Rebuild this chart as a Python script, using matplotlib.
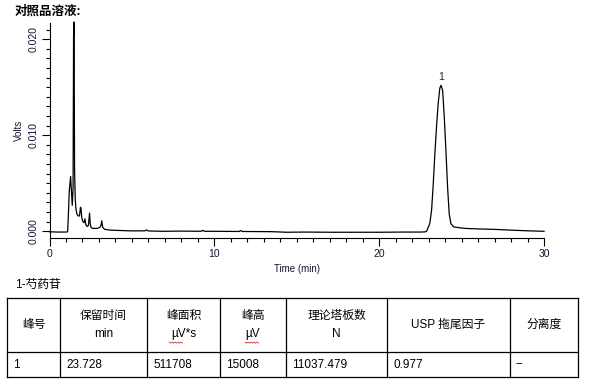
import matplotlib
matplotlib.use('Agg')
import matplotlib.pyplot as plt
from matplotlib.lines import Line2D
from matplotlib.ticker import MultipleLocator

plt.rcParams['font.family'] = ['Liberation Sans', 'Noto Sans CJK SC', 'DejaVu Sans']

# chromatogram readings (min, volts)
time_min = [0.00, 0.50, 1.00, 1.10, 1.14, 1.20, 1.28, 1.33, 1.38, 1.43, 1.46, 1.49,
             1.52, 1.56, 1.60, 1.66, 1.74, 1.82, 1.88, 1.91, 1.96, 2.03, 2.10, 2.15,
             2.20, 2.28, 2.36, 2.43, 2.47, 2.52, 2.60, 2.75, 2.90, 3.05, 3.12, 3.17,
             3.23, 3.35, 3.70, 4.00, 5.00, 5.80, 5.90, 6.00, 7.00, 8.00, 9.20, 9.30,
             9.40, 10.0, 11.5, 11.6, 11.7, 12.5, 13.5, 14.4, 15.5, 17.0, 18.5, 20.0,
             21.5, 22.5, 22.77, 22.87, 23.07, 23.18, 23.27, 23.38, 23.48, 23.58, 23.68,
             23.75, 23.85, 23.95, 24.05, 24.15, 24.25, 24.35, 24.52, 25.20, 26.0,
             27.0, 28.0, 29.0, 30.0]
volts = [-0.00005, -0.00008, -0.00008, -0.00005, 0.0015, 0.0042, 0.0057, 0.0042, 0.0027,
         0.0045, 0.0203, 0.0218, 0.0065, 0.0034, 0.0024, 0.0018, 0.0016, 0.0016, 0.0025,
         0.0024, 0.0014, 0.0010, 0.0009, 0.0013, 0.0007, 0.0005, 0.0006, 0.0019, 0.0008,
         0.0004, 0.0003, 0.0003, 0.0003, 0.0004, 0.0006, 0.0011, 0.0004, 0.0002, 0.00012,
         0.0001, 0.00004, 0.00005, 0.00015, 0.00003, 0.0, 0.00002, 0.0, 0.0001, 0.0, 0.0,
         -0.00002, 0.00008, -0.00002, -0.00003, -0.00004, -0.0001, -0.00008, -0.0001,
         -0.0001, -0.0001, -0.00008, -0.00008, -0.00006, -0.00002, 0.0008, 0.0022, 0.0046,
         0.0081, 0.0109, 0.0133, 0.0149, 0.0152, 0.0147, 0.0119, 0.0084, 0.0046, 0.0018,
         0.0008, 0.00045, 0.0003, 0.00025, 0.0002, 0.00012, 0.00005, 0.0]

peak_label = '1'
peak_time = 23.75
peak_volts = 0.0152

table_title = '1-芍药苷'
col_headers = ['峰号', '保留时间\nmin', '峰面积\nµV*s', '峰高\nµV', '理论塔板数\nN', 'USP 拖尾因子', '分离度']
row_values = ['1', '23.728', '511708', '15008', '11037.479', '0.977', '--']
col_edges = [7, 60, 147, 220, 286, 387, 510, 578]

W, H = 589, 389
fig = plt.figure(figsize=(W / 100, H / 100), dpi=100)
ax = fig.add_axes([49.5 / W, 1 - 238.3 / H, (544 - 49.5) / W, (238.3 - 23.3) / H])

ax.plot(time_min, volts, color='black', lw=0.9, clip_on=False)
ax.text(peak_time, peak_volts + 0.0003, peak_label, ha='center', va='bottom',
        fontsize=7.5, color='#3a1050')

ax.set_xlim(0, 30)
ax.set_ylim(-0.00073, 0.02166)
ax.spines['top'].set_visible(False)
ax.spines['right'].set_visible(False)
ax.xaxis.set_major_locator(MultipleLocator(10))
ax.xaxis.set_minor_locator(MultipleLocator(1))
ax.yaxis.set_minor_locator(MultipleLocator(0.001))
ax.set_yticks([0, 0.01, 0.02])
ax.set_yticklabels(['0.000', '0.010', '0.020'], rotation=90, va='center')
ax.tick_params(which='major', length=6, width=0.8, labelsize=7.5, pad=2, colors='#141432')
ax.tick_params(which='minor', length=3, width=0.8)
ax.tick_params(axis='both', which='both', color='black')
ax.set_xlabel('Time (min)', fontsize=7, labelpad=3, color='#141432')
ax.set_ylabel('Volts', fontsize=7, labelpad=3, color='#141432')

fig.text(15 / W, 1 - 11 / H, '对照品溶液:', fontsize=9, fontweight='heavy',
         family=['Noto Sans CJK SC', 'DejaVu Sans'], va='center', ha='left')

# table drawn in pixel coordinates
tab = fig.add_axes([0, 0, 1, 1])
tab.set_xlim(0, W)
tab.set_ylim(H, 0)
tab.axis('off')
top, mid, bot = 298.3, 351.7, 377.3
tab.text(15, 285, table_title, fontsize=8.5, va='center', ha='left')
for y in (top, mid, bot):
    tab.add_line(Line2D([col_edges[0], col_edges[-1]], [y, y], color='black', lw=0.9))
for x in col_edges:
    tab.add_line(Line2D([x, x], [top, bot], color='black', lw=0.9))
for i, head in enumerate(col_headers):
    cx = (col_edges[i] + col_edges[i + 1]) / 2
    tab.text(cx, (top + mid) / 2, head, fontsize=8.5, ha='center', va='center',
             linespacing=1.6)
    tab.text(col_edges[i] + 6, (mid + bot) / 2, row_values[i], fontsize=8.5,
             ha='left', va='center')

# red wavy spell-check underlines under the µV units
for x0 in (169, 245):
    xs = [x0 + k * 1.5 for k in range(10)]
    ys = [342 + (k % 2) * 1.2 for k in range(10)]
    tab.add_line(Line2D(xs, ys, color='#e03030', lw=0.6))

fig.savefig('out.png', dpi=100)
